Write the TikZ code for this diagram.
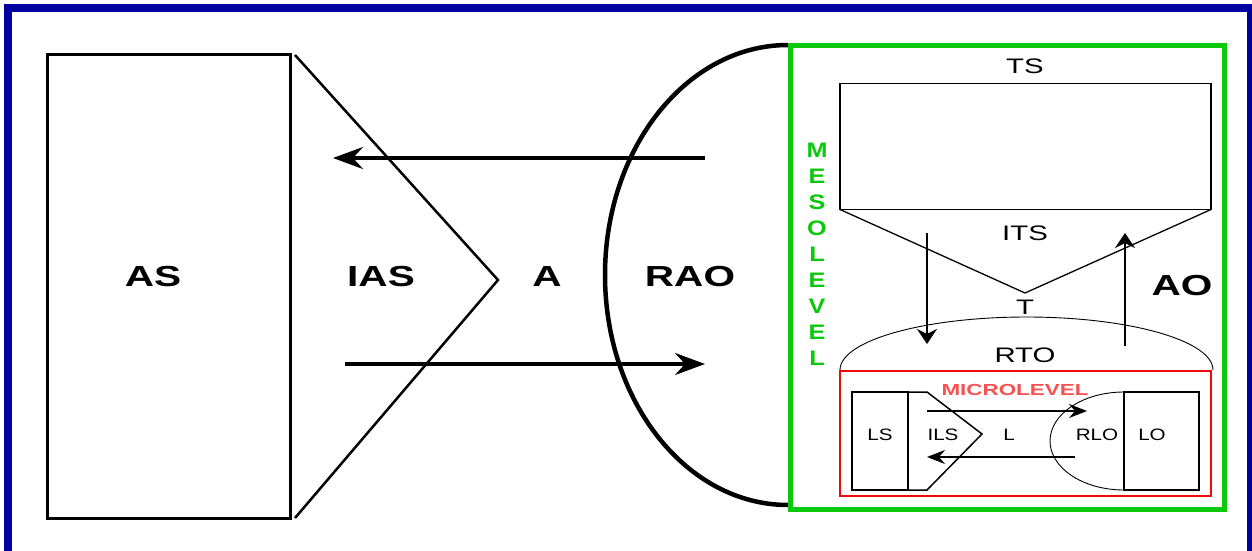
\documentclass[tikz,border=0pt]{standalone}
\usepackage{fontspec}
\setmainfont[FakeStretch=1.4]{Liberation Sans}
\newfontfamily\mesofont[FakeStretch=1.2]{Liberation Sans}
\newfontfamily\smallfont[FakeStretch=1.25]{Liberation Sans}
\usetikzlibrary{arrows.meta}
\definecolor{navy}{RGB}{0,0,160}
\definecolor{meso}{RGB}{10,200,10}
\definecolor{micro}{RGB}{240,10,10}
\definecolor{microtxt}{RGB}{250,80,80}
\tikzset{
  big/.style={font=\fontsize{29}{30}\selectfont\bfseries, inner sep=0pt},
  mid/.style={font=\fontsize{21}{22}\selectfont, inner sep=0pt},
  small/.style={font=\fontsize{16.5}{17}\selectfont\smallfont, inner sep=0pt},
  bigarrow/.style={line width=3.5pt, -{Stealth[length=30pt,width=22pt,inset=10pt]}},
  midarrow/.style={line width=2.8pt, -{Stealth[length=15pt,width=20pt,inset=5pt]}},
  smallarrow/.style={line width=1.3pt, -{Stealth[length=18pt,width=14pt,inset=6pt]}},
  boxline/.style={draw, line width=1.5pt},
}
\begin{document}
\begin{tikzpicture}[x=1pt,y=-1pt]
\useasboundingbox (0,0) rectangle (1252,551);
\fill[white] (0,0) rectangle (1252,551);
\begin{scope}
\clip (0,0) rectangle (1252,551);
\draw[navy, line width=8pt] (8,8.5) rectangle (1250.5,620);
\end{scope}
% left part
\node[draw, line width=3pt, minimum width=243pt, minimum height=463pt, inner sep=0pt] (as) at (168.5,286.5) {};
\coordinate (iastop) at (295,55);
\coordinate (iastip) at (498,280);
\coordinate (iasbot) at (295,518);
\draw[line width=2.5pt] (iastop) -- (iastip) -- (iasbot);
\node[big] (asl) at (153,277) {AS};
\node[big] (iasl) at (381,277) {IAS};
\node[big] (al) at (547,277) {A};
\node[big] (raol) at (690,277) {RAO};
\coordinate (a1s) at (705,158);
\coordinate (a1e) at (333,158);
\coordinate (a2s) at (345,364);
\coordinate (a2e) at (705,364);
\draw[bigarrow] (a1s) -- (a1e);
\draw[bigarrow] (a2s) -- (a2e);
% RAO arc
\coordinate (raotop) at (788,45);
\draw[line width=4.5pt] (raotop) arc[start angle=270, end angle=90, x radius=183, y radius=230];
% meso box
\node[draw=meso, line width=5pt, minimum width=434pt, minimum height=463pt, inner sep=0pt] (meso) at (1007,277.5) {};
\node[font=\fontsize{21}{26}\selectfont\mesofont\bfseries, text=meso, align=center, inner sep=0pt] (mesol) at (817,254) {M\\E\\S\\O\\L\\E\\V\\E\\L};
\node[boxline, minimum width=371pt, minimum height=126pt, inner sep=0pt] (ts) at (1025.5,146.5) {};
\node[mid] (tsl) at (1025,66) {TS};
\coordinate (itsl) at (840,209.5);
\coordinate (itsr) at (1211,209.5);
\coordinate (itst) at (1025,293);
\draw[line width=1.3pt] (itsl) -- (itst) -- (itsr);
\node[mid] (itslab) at (1025,233) {ITS};
\node[mid] (tl) at (1025,307) {T};
\node[big] (ao) at (1182,286) {AO};
\coordinate (d1s) at (927,233);
\coordinate (d1e) at (927,344);
\coordinate (u1s) at (1125,346);
\coordinate (u1e) at (1125,233);
\draw[midarrow] (d1s) -- (d1e);
\draw[midarrow] (u1s) -- (u1e);
\coordinate (rtol) at (840,370);
\draw[line width=0.9pt] (rtol) arc[start angle=180, end angle=360, x radius=186.5, y radius=53];
\node[mid] (rtolab) at (1025,355) {RTO};
% micro box
\node[draw=micro, line width=2.5pt, minimum width=371pt, minimum height=125pt, inner sep=0pt] (micro) at (1025.5,433.5) {};
\node[font=\fontsize{16}{17}\selectfont\bfseries, text=microtxt, inner sep=0pt] (microl) at (1015,390) {MICROLEVEL};
\node[boxline, minimum width=56pt, minimum height=98pt, inner sep=0pt] (ls) at (880,441) {};
\node[boxline, minimum width=75pt, minimum height=98pt, inner sep=0pt] (lo) at (1161.5,441) {};
\coordinate (ilsa) at (908,392);
\coordinate (ilsb) at (927,392);
\coordinate (ilst) at (982,434);
\coordinate (ilsc) at (927,490);
\coordinate (ilsd) at (908,490);
\draw[line width=1.5pt] (ilsa) -- (ilsb) -- (ilst) -- (ilsc) -- (ilsd);
\coordinate (rlotop) at (1124,392);
\draw[line width=0.9pt] (rlotop) arc[start angle=270, end angle=90, x radius=74, y radius=49];
\coordinate (m1s) at (927,411);
\coordinate (m1e) at (1087,411);
\coordinate (m2s) at (1075,457);
\coordinate (m2e) at (927,457);
\draw[smallarrow] (m1s) -- (m1e);
\draw[smallarrow] (m2s) -- (m2e);
\node[small] (lsl) at (880,435) {LS};
\node[small] (ilsl) at (943,435) {ILS};
\node[small] (ll) at (1009,435) {L};
\node[small] (rlol) at (1097,435) {RLO};
\node[small] (lol) at (1152,435) {LO};
\end{tikzpicture}
\end{document}
